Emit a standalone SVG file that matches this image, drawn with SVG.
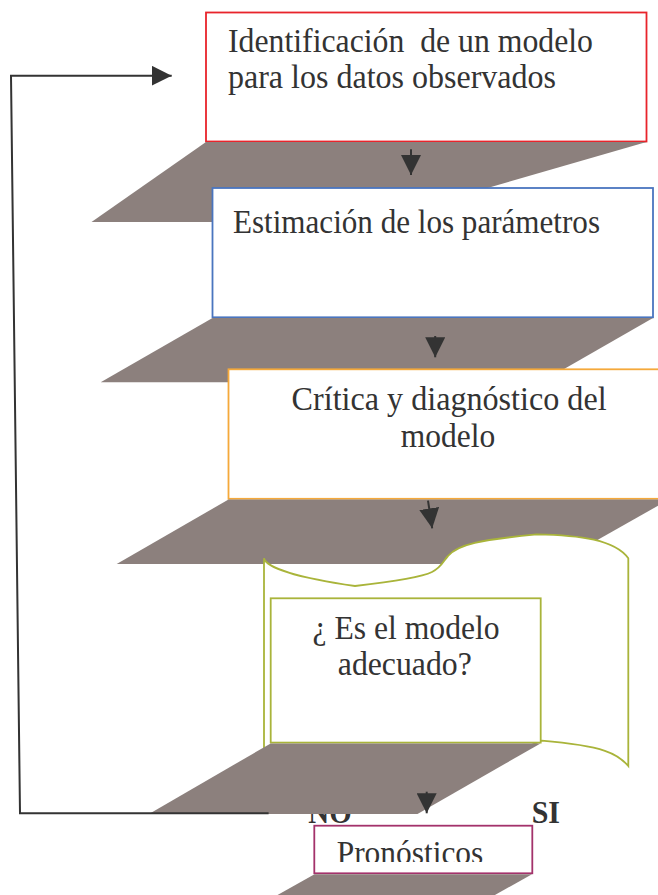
<svg xmlns="http://www.w3.org/2000/svg" width="658" height="895" viewBox="0 0 658 895">
<style>
.t{font-family:"Liberation Serif","Times New Roman",serif;font-size:33px;fill:#333333;white-space:pre}
.b{font-family:"Liberation Serif","Times New Roman",serif;font-size:32px;font-weight:bold;fill:#333333}
.sh{fill:#8c807d;stroke:none}
.box{fill:#ffffff;stroke-width:1.8}
.con{fill:none;stroke:#333333;stroke-width:2}
</style>
<defs>
<marker id="ah" viewBox="0 0 20 20" refX="20" refY="10" markerWidth="20" markerHeight="20" markerUnits="userSpaceOnUse" orient="auto">
<path d="M0,0 L20,10 L0,20 z" fill="#333333"/>
</marker>
<clipPath id="pclip"><rect x="314" y="826" width="218" height="36"/></clipPath>
</defs>

<g id="identificacion">
<rect class="box" x="206" y="12.5" width="440.5" height="129" stroke="#e8242b"/>
<text class="t" x="228" y="52" textLength="365" lengthAdjust="spacingAndGlyphs">Identificación  de un modelo</text>
<text class="t" x="228" y="88" textLength="328" lengthAdjust="spacingAndGlyphs">para los datos observados</text>
</g>
<polygon class="sh" points="206,142 646.5,142 370,222 91.5,222"/>

<g id="estimacion">
<rect class="box" x="212.5" y="188" width="440.5" height="129.3" stroke="#4a75bf"/>
<text class="t" x="233" y="233" textLength="367" lengthAdjust="spacingAndGlyphs">Estimación de los parámetros</text>
</g>
<polygon class="sh" points="212.5,318 653,318 541,382.3 100.7,382.3"/>

<g id="critica">
<rect class="box" x="228.5" y="369.3" width="441" height="129.5" stroke="#f5a93b"/>
<text class="t" x="291.6" y="410" textLength="315" lengthAdjust="spacingAndGlyphs">Crítica y diagnóstico del</text>
<text class="t" x="400.8" y="446.5" textLength="94.4" lengthAdjust="spacingAndGlyphs">modelo</text>
</g>
<polygon class="sh" points="228.5,499.5 669,499.5 555,564 116.7,564"/>

<g id="decision">
<path class="box" stroke="#a9b43a" d="M264,558.3 C266,568 300,578 355,586 C390,582 420,578 432,572 C442,567 444,560 448,556 C458,544 480,540 536.7,534.3 C580,535 615,540 628.3,558.3 V766 C618,754 605,746 541.7,740.7 L400,800 L264,780 Z"/>
<rect class="box" x="270.7" y="598.3" width="270" height="144.3" stroke="#a9b43a"/>
<text class="t" x="312.6" y="639" textLength="187" lengthAdjust="spacingAndGlyphs">¿ Es el modelo</text>
<text class="t" x="337.8" y="675" textLength="134" lengthAdjust="spacingAndGlyphs">adecuado?</text>
</g>

<text id="label-no" class="b" x="308.3" y="823" textLength="43.4" lengthAdjust="spacingAndGlyphs">NO</text>
<polygon class="sh" points="270.7,743.4 540.5,743.4 417.5,814 149,814"/>

<g id="connectors">
<path class="con" d="M268.6,813.3 L20,813.3 L11,75.7 L171.7,75.7" marker-end="url(#ah)"/>
<path class="con" d="M411,149.3 L411,175" marker-end="url(#ah)"/>
<path class="con" d="M435.2,336 L435.2,357.3" marker-end="url(#ah)"/>
<path class="con" d="M428,500.7 L432.2,528.3" marker-end="url(#ah)"/>
<path class="con" d="M426.7,791.7 L426.7,813.3" marker-end="url(#ah)"/>
</g>

<text id="label-si" class="b" x="531.7" y="823" textLength="28.3" lengthAdjust="spacingAndGlyphs">SI</text>

<g id="pronosticos">
<rect class="box" x="314.3" y="825.7" width="218" height="47.6" stroke="#a3326b"/>
<text class="t" x="336.7" y="864" clip-path="url(#pclip)" textLength="146.6" lengthAdjust="spacingAndGlyphs">Pronósticos</text>
</g>
<polygon class="sh" points="314.5,874.2 532,874.2 486,900 268.7,900"/>
</svg>
